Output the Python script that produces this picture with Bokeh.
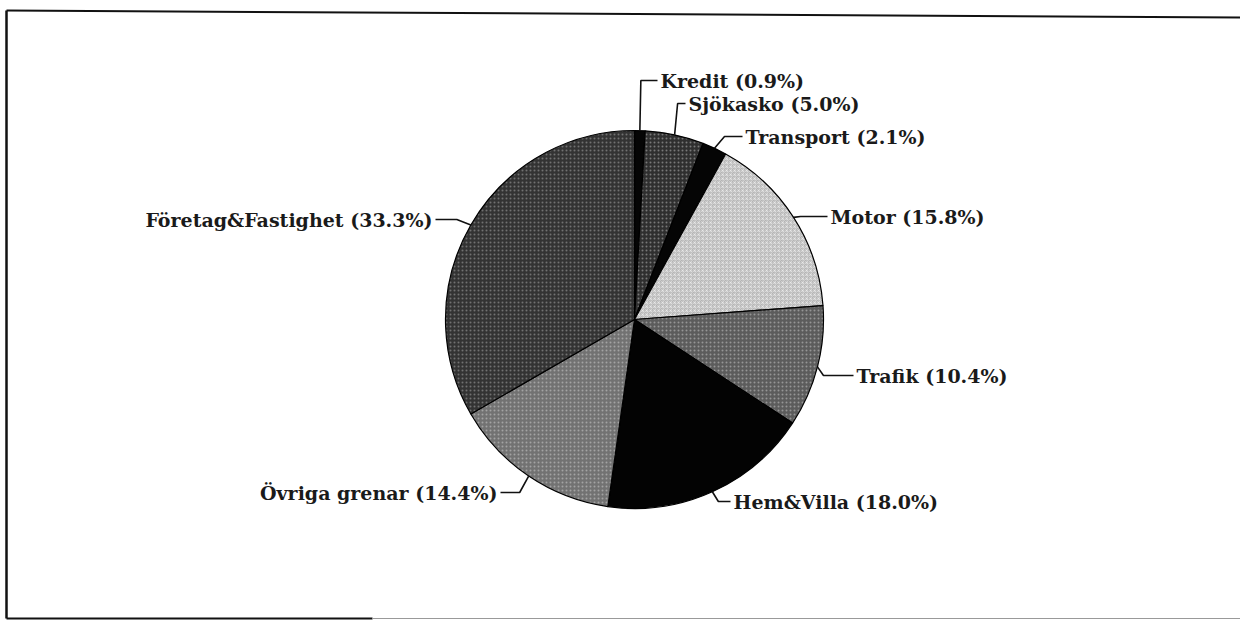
import math
from bokeh.plotting import figure
from bokeh.models import Range1d, ColumnDataSource
from bokeh.core.properties import value
from bokeh.embed import file_html
from bokeh.resources import INLINE

# ---- data ----
categories = ["Kredit", "Sjökasko", "Transport", "Motor", "Trafik",
              "Hem&Villa", "Övriga grenar", "Företag&Fastighet"]
shares = [0.9, 5.0, 2.1, 15.8, 10.4, 18.0, 14.4, 33.3]

# ---- styles / layout ----
fills = ["#050505", "#2f2f2f", "#050505", "#b4b4b4", "#5c5c5c",
         "#030303", "#727272", "#333333"]
hatches = ["blank", "dot", "blank", "criss_cross", "dot", "blank", "dot", "dot"]
hatch_alpha = [0.0, 0.35, 0.0, 0.35, 0.35, 0.0, 0.35, 0.3]
# label anchor (screen px), side (+1 right / -1 left), elbow dx from edge
label_pos = [(660, 80), (688, 103), (745, 136), (830, 216), (856, 375),
             (733, 501), (497, 492), (432, 219)]
label_side = [1, 1, 1, 1, 1, 1, -1, -1]
elbow_dx = [1, 3, 10, 7, 6, 6, -9, -14]

W, H = 1240, 620
PAGE_H = 623
cx, cy_s, R = 634, 319, 189


def Y(ys):
    return PAGE_H - ys


p = figure(width=W, height=H, output_backend="svg", toolbar_location=None,
           x_range=Range1d(0, W), y_range=Range1d(PAGE_H - H, PAGE_H),
           min_border=0, x_axis_location=None, y_axis_location=None,
           background_fill_color="white", border_fill_color="white")
p.outline_line_color = None
p.xgrid.visible = False
p.ygrid.visible = False

total = sum(shares)
cum = 0.0
starts, ends, mids = [], [], []
for s in shares:
    c0 = cum / total
    cum += s
    c1 = cum / total
    starts.append(math.pi / 2 - 2 * math.pi * c1)
    ends.append(math.pi / 2 - 2 * math.pi * c0)
    mids.append(2 * math.pi * (c0 + c1) / 2)

src = ColumnDataSource(dict(start=starts, end=ends, fill=fills, hatch=hatches,
                            ha=hatch_alpha, name=categories))
p.wedge(x=cx, y=Y(cy_s), radius=R, start_angle="start", end_angle="end",
        direction="anticlock", source=src, fill_color="fill",
        hatch_pattern="hatch", hatch_color="white", hatch_alpha="ha",
        hatch_scale=4, line_color="#000000", line_width=1.2)

# labels and leader lines
for name, s, m, (lx, ly), side, edx in zip(categories, shares, mids, label_pos,
                                           label_side, elbow_dx):
    ex = cx + R * math.sin(m)
    ey = cy_s - R * math.cos(m)
    elx = ex + edx
    tx = lx - 3 if side > 0 else lx + 3
    p.line([ex, elx, tx], [Y(ey), Y(ly), Y(ly)], line_color="#111111", line_width=1.6)
    p.text(x=[lx], y=[Y(ly)], text=[f"{name} ({s:.1f}%)"],
           text_align="left" if side > 0 else "right", text_baseline="middle",
           text_font=value("DejaVu Serif"), text_font_size="19px",
           text_font_style="bold", text_color="#1a1a1a")

# frame (scanned page box)
p.line([6, 1240], [Y(10), Y(17)], line_color="#111111", line_width=2)
p.line([6, 6], [Y(10), Y(618)], line_color="#111111", line_width=2.5)
p.line([6, 372], [Y(618), Y(618)], line_color="#111111", line_width=2)
p.line([372, 1240], [Y(618), Y(618)], line_color="#999999", line_width=1)

open("out.html", "w").write(file_html(p, INLINE))
